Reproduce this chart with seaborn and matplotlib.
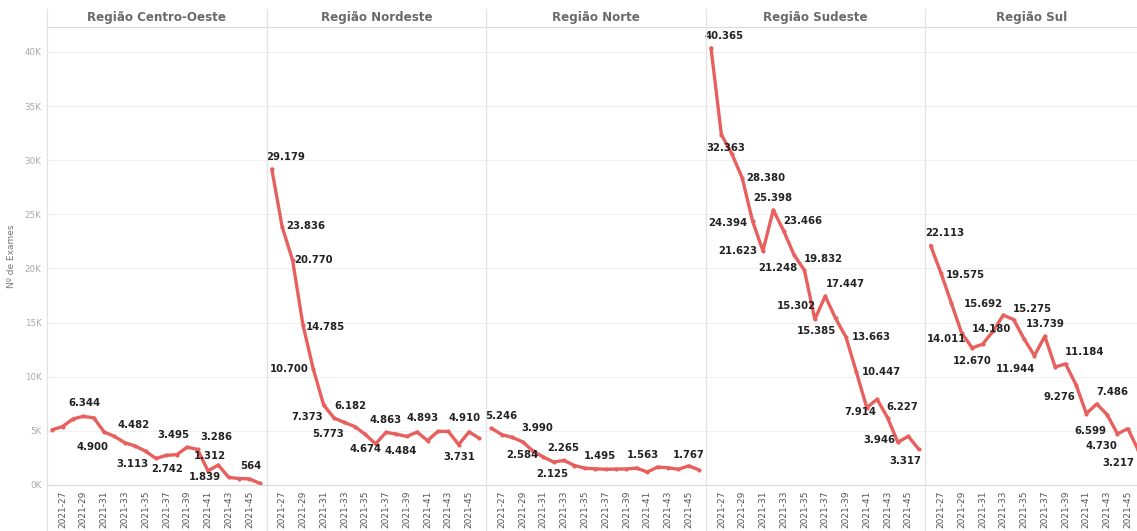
import matplotlib
matplotlib.use('Agg')
import matplotlib.pyplot as plt
from matplotlib.lines import Line2D
import pandas as pd
import seaborn as sns

SEMANAS = ['2021-26', '2021-27', '2021-28', '2021-29', '2021-30', '2021-31', '2021-32',
           '2021-33', '2021-34', '2021-35', '2021-36', '2021-37', '2021-38', '2021-39',
           '2021-40', '2021-41', '2021-42', '2021-43', '2021-44', '2021-45', '2021-46']

REGIOES = ['Região Centro-Oeste', 'Região Nordeste', 'Região Norte', 'Região Sudeste', 'Região Sul']

CENTRO_OESTE = [5100, 5400, 6100, 6344, 6200, 4900, 4482, 3900, 3600, 3113, 2450,
                2742, 2800, 3495, 3286, 1312, 1839, 700, 600, 564, 150]
NORDESTE = [29179, 23836, 20770, 14785, 10700, 7373, 6182, 5773, 5400, 4674, 3800,
            4863, 4700, 4484, 4893, 4100, 4950, 4950, 3731, 4910, 4300]
NORTE = [5246, 4650, 4400, 3990, 3150, 2584, 2125, 2265, 1800, 1550, 1495,
         1450, 1470, 1480, 1563, 1200, 1650, 1600, 1450, 1767, 1400]
SUDESTE = [40365, 32363, 30600, 28380, 24394, 21623, 25398, 23466, 21248, 19832, 15302,
           17447, 15385, 13663, 10447, 7150, 7914, 6227, 3946, 4500, 3317]
SUL = [22113, 19575, 16800, 14011, 12670, 13000, 14180, 15692, 15275, 13500, 11944,
       13739, 10900, 11184, 9276, 6599, 7486, 6500, 4730, 5200, 3217]

SERIES = dict(zip(REGIOES, [CENTRO_OESTE, NORDESTE, NORTE, SUDESTE, SUL]))

# which points carry a value label, and the label offset in pixels (dx, dy)
ROTULOS = {
    'Região Centro-Oeste': {3: (1, 13), 5: (-12, -15), 6: (19, 11), 9: (-13, -13), 11: (1, -14),
                            13: (-14, 12), 14: (19, 12), 15: (2, 15), 16: (-13, -12), 19: (1, 13)},
    'Região Nordeste': {0: (14, 12), 1: (24, 1), 2: (21, 0), 3: (22, -2), 4: (-24, 0), 5: (-17, -12),
                        6: (16, 12), 7: (-16, -12), 9: (0, -15), 11: (0, 12), 13: (-6, -15),
                        14: (5, 14), 18: (1, -12), 19: (-5, 14)},
    'Região Norte': {0: (10, 12), 3: (15, 14), 5: (-21, 2), 6: (-1, -12), 7: (-1, 12),
                     10: (5, 13), 14: (6, 13), 19: (0, 11)},
    'Região Sudeste': {0: (13, 12), 1: (4, -13), 3: (24, 0), 4: (-25, -2), 5: (-25, 0), 6: (0, 12),
                       7: (19, 10), 8: (-16, -13), 9: (19, 11), 10: (-18, 13), 11: (20, 12),
                       12: (-19, -13), 13: (25, 0), 14: (25, 0), 16: (-17, -13), 17: (15, 11),
                       18: (-19, 2), 20: (-13, -12)},
    'Região Sul': {0: (14, 13), 1: (24, -2), 3: (-15, -6), 4: (0, -13), 6: (-1, 2), 7: (-20, 11),
                   8: (19, 11), 10: (-19, -13), 11: (0, 12), 13: (19, 12), 14: (-17, -12),
                   15: (4, -17), 16: (16, 12), 18: (-16, -12), 20: (-20, -13)},
}

VERMELHO = '#e8605e'
W, H = 1137, 531


def fmt_br(v):
    return f'{v:,}'.replace(',', '.')


if __name__ == '__main__':
    sns.set_style('white')
    plt.rcParams['font.family'] = ['DejaVu Sans']

    df = pd.concat([pd.DataFrame({'regiao': r, 'semana': SEMANAS, 'exames': SERIES[r]})
                    for r in REGIOES], ignore_index=True)
    pos = {s: i for i, s in enumerate(SEMANAS)}
    df['pos'] = df['semana'].map(pos)

    g = sns.relplot(
        data=df, x='pos', y='exames', col='regiao', kind='line',
        color=VERMELHO, linewidth=2.4, marker='o', markersize=3, markeredgewidth=0,
        height=5.31, aspect=0.41, legend=False,
        facet_kws=dict(sharey=True, sharex=True),
    )
    fig = g.figure
    fig.set_size_inches(W / 100, H / 100)
    fig.subplots_adjust(left=47 / W, right=1145 / W, bottom=1 - 485 / H, top=1 - 27 / H, wspace=0)
    g.set_titles('')

    ticks = SEMANAS[1::2]
    for i, (ax, regiao) in enumerate(zip(g.axes.flat, REGIOES)):
        ax.set_xlim(-0.5, 20.65)
        ax.set_ylim(0, 42300)
        ax.set_yticks(range(0, 40001, 5000))
        ax.set_yticklabels([f'{v // 1000}K' for v in range(0, 40001, 5000)])
        ax.set_xticks([pos[t] for t in ticks])
        ax.set_xticklabels(ticks, rotation=90)
        ax.tick_params(axis='x', length=0, pad=4, labelsize=6.5, labelcolor='#555555')
        ax.tick_params(axis='y', length=0, pad=4, labelsize=6.3, labelcolor='#aaaaaa')
        ax.grid(axis='y', color='#f0f0f0', linewidth=0.8)
        ax.grid(axis='x', visible=False)
        ax.set_axisbelow(True)
        for s in ['left', 'right']:
            ax.spines[s].set_visible(False)
        ax.spines['bottom'].set_color('#d9d9d9')
        ax.spines['top'].set_visible(True)
        ax.spines['top'].set_color('#dcdcdc')
        ax.spines['top'].set_linewidth(0.8)
        ax.set_xlabel('')
        if i == 0:
            ax.set_ylabel('Nº de Exames', fontsize=6.5, color='#777777', labelpad=6)
        else:
            ax.set_ylabel('')

        vals = SERIES[regiao]
        for idx, (dx, dy) in ROTULOS[regiao].items():
            ax.annotate(fmt_br(vals[idx]), xy=(idx, vals[idx]), xytext=(dx, dy),
                        textcoords='offset pixels', ha='center', va='center',
                        fontsize=7.3, fontweight='bold', color='#222222',
                        annotation_clip=False)

        # header + separators
        bb = ax.get_position()
        cx = (bb.x0 + min(bb.x1, 1.0)) / 2
        fig.text(cx, 1 - 17 / H, regiao, ha='center', va='center',
                 fontsize=8.6, fontweight='bold', color='#6a6a6a')
        fig.add_artist(Line2D([bb.x0, bb.x0], [0, 1 - 9 / H], color='#e2e2e2', linewidth=0.9))

    fig.savefig('out.png', dpi=100)
